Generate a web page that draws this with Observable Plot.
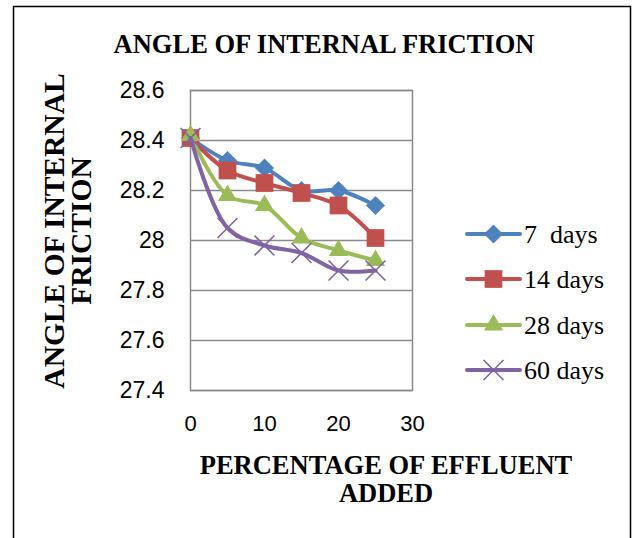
<!DOCTYPE html>
<html><head><meta charset="utf-8">
<script src="https://cdn.jsdelivr.net/npm/d3@7"></script>
<script src="https://cdn.jsdelivr.net/npm/@observablehq/plot@0.6"></script>
<style>body{margin:0;background:#fff} svg{display:block}</style>
</head><body><div id="chart"></div>
<script>
const percentages = [0, 5, 10, 15, 20, 25];
const seriesNames = ["7  days", "14 days", "28 days", "60 days"];
const days7  = [28.41, 28.32, 28.29, 28.20, 28.20, 28.14];
const days14 = [28.41, 28.28, 28.23, 28.19, 28.14, 28.01];
const days28 = [28.42, 28.18, 28.14, 28.01, 27.96, 27.92];
const days60 = [28.41, 28.05, 27.98, 27.95, 27.88, 27.88];
const yTicks = [27.4, 27.6, 27.8, 28, 28.2, 28.4, 28.6];
const xTicks = [0, 10, 20, 30];
const colors = ["#4f81bd", "#c0504d", "#9bbb59", "#8064a2"];
const symbols = ["diamond2", "square", "triangle", "times"];
const radii = [8.6, 10, 7.1, 9.1];

const allValues = [days7, days14, days28, days60];
const data = allValues.flatMap((vals, s) => vals.map((v, i) => ({series: seriesNames[s], s, x: percentages[i], y: v})));

const marks = [
  Plot.gridY(yTicks, {stroke: "#8a8a8a", strokeOpacity: 1, strokeWidth: 1.3}),
  Plot.frame({stroke: "#8a8a8a", strokeWidth: 1.5}),
  Plot.axisY(yTicks, {tickSize: 0, tickPadding: 26, fontSize: 23, fontFamily: "Liberation Sans", fill: "#000", label: null, tickFormat: d => String(+d.toFixed(1))}),
  Plot.axisX(xTicks, {tickSize: 0, tickPadding: 25, fontSize: 22, fontFamily: "Liberation Sans", fill: "#000", label: null})
];
seriesNames.forEach((name, s) => {
  const d = data.filter(r => r.s === s);
  marks.push(Plot.line(d, {x: "x", y: "y", stroke: colors[s], strokeWidth: 4, curve: "catmull-rom"}));
  if (symbols[s] === "times") {
    marks.push(Plot.dot(d, {x: "x", y: "y", symbol: "times", r: radii[s], stroke: colors[s], strokeWidth: 1.6, fill: "none"}));
  } else {
    marks.push(Plot.dot(d, {x: "x", y: "y", symbol: symbols[s], r: radii[s], fill: colors[s], stroke: "none"}));
  }
});

const chart = Plot.plot({
  width: 632, height: 538,
  marginLeft: 190, marginRight: 220, marginTop: 90, marginBottom: 148,
  x: {domain: [0, 30]},
  y: {domain: [27.4, 28.6]},
  style: {background: "#fff", overflow: "visible"},
  marks
});
document.getElementById("chart").appendChild(chart);

const svg = d3.select(chart);
svg.insert("rect", ":first-child").attr("x", 13.5).attr("y", 6.5).attr("width", 617).attr("height", 560)
  .attr("fill", "none").attr("stroke", "#000").attr("stroke-width", 1.5);

const serif = "'Liberation Serif', 'Times New Roman', serif";
svg.append("text").attr("x", 324).attr("y", 53).attr("text-anchor", "middle")
  .attr("font-family", serif).attr("font-weight", "bold").attr("font-size", 26.5).text("ANGLE OF INTERNAL FRICTION");
const yl = svg.append("text").attr("transform", "translate(0,231) rotate(-90)").attr("text-anchor", "middle")
  .attr("font-family", serif).attr("font-weight", "bold").attr("font-size", 29.5);
yl.append("tspan").attr("x", 0).attr("y", 64).text("ANGLE OF INTERNAL");
yl.append("tspan").attr("x", 0).attr("y", 91).text("FRICTION");
const xl = svg.append("text").attr("text-anchor", "middle")
  .attr("font-family", serif).attr("font-weight", "bold").attr("font-size", 26.5);
xl.append("tspan").attr("x", 386).attr("y", 474).text("PERCENTAGE OF EFFLUENT");
xl.append("tspan").attr("x", 386).attr("y", 502).text("ADDED");

const symMap = {diamond2: d3.symbolDiamond2, square: d3.symbolSquare, triangle: d3.symbolTriangle, times: d3.symbolTimes};
const legendY = [234, 279, 325, 370];
seriesNames.forEach((name, s) => {
  const g = svg.append("g").attr("transform", `translate(0,${legendY[s]})`);
  g.append("line").attr("x1", 467).attr("x2", 520).attr("y1", 0).attr("y2", 0)
    .attr("stroke", colors[s]).attr("stroke-width", 4).attr("stroke-linecap", "round");
  const p = g.append("path").attr("transform", "translate(493.5,0)")
    .attr("d", d3.symbol(symMap[symbols[s]], radii[s] * radii[s] * Math.PI)());
  if (symbols[s] === "times") p.attr("fill", "none").attr("stroke", colors[s]).attr("stroke-width", 1.6);
  else p.attr("fill", colors[s]);
  g.append("text").attr("x", 524).attr("y", 0).attr("dy", "0.34em").attr("text-anchor", "start")
    .attr("font-family", serif).attr("font-size", 26).style("white-space", "pre").text(name);
});
</script>
</body></html>
